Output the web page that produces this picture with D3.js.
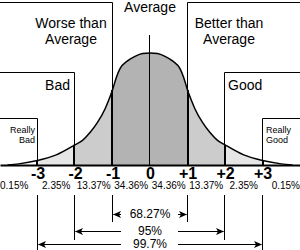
<!DOCTYPE html>
<html>
<head>
<meta charset="utf-8">
<script src="https://cdn.jsdelivr.net/npm/d3@7"></script>
<style>
  html, body { margin: 0; padding: 0; background: #fff; }
  svg { display: block; font-family: "Liberation Sans", Arial, sans-serif; }
</style>
</head>
<body>
<svg id="chart" width="300" height="250"></svg>
<script>
// bell curve (z in sigmas, height in % of peak)
const curveZ = [-3.8, -3.5, -3, -2.5, -2, -1.8, -1.6, -1.4, -1.2, -1.1, -1, -0.9, -0.8, -0.6, -0.4, -0.2, 0,
                0.2, 0.4, 0.6, 0.8, 0.9, 1, 1.1, 1.2, 1.4, 1.6, 1.8, 2, 2.5, 3, 3.5, 3.8];
const curveH = [0, 1, 4, 9, 18, 22, 29, 38, 50, 58, 67, 78, 86, 93, 97, 99.5, 100,
                99.5, 97, 93, 86, 78, 67, 58, 50, 38, 29, 22, 18, 9, 4, 1, 0];

const sigmaTicks = [-3, -2, -1, 0, 1, 2, 3];
const sigmaLabels = ["-3", "-2", "-1", "0", "+1", "+2", "+3"];

const bandEdges = [-4, -3, -2, -1, 0, 1, 2, 3, 4];
const bandPct = ["0.15%", "2.35%", "13.37%", "34.36%", "34.36%", "13.37%", "2.35%", "0.15%"];

const coverSigma = [1, 2, 3];
const coverPct = ["68.27%", "95%", "99.7%"];

const svg = d3.select("#chart");
const width = 300;

const x = d3.scaleLinear().domain([-4, 4]).range([0, width]);
const y = d3.scaleLinear().domain([0, 100]).range([165, 53]);

// half-pixel snapping for 1px lines
const snap = v => Math.floor(v - 0.5) + 0.5;

const pts = curveZ.map((z, i) => ({ z: z, h: curveH[i] }));
const heightAt = z => curveH[curveZ.indexOf(z)];

// shaded bands under the curve
const defs = svg.append("defs");
const bands = [
    { from: -1, to: 1, fill: "#b3b3b3" },
    { from: -2, to: -1, fill: "#cccccc" },
    { from: 1, to: 2, fill: "#cccccc" },
    { from: -3, to: -2, fill: "#e6e6e6" },
    { from: 2, to: 3, fill: "#e6e6e6" }
];

const area = d3.area()
    .x(d => x(d.z))
    .y0(y(0))
    .y1(d => y(d.h))
    .curve(d3.curveMonotoneX);

bands.forEach(function (b, i) {
    defs.append("clipPath")
        .attr("id", "band" + i)
        .append("rect")
        .attr("x", x(b.from))
        .attr("y", 0)
        .attr("width", x(b.to) - x(b.from))
        .attr("height", 250);
    svg.append("path")
        .datum(pts)
        .attr("clip-path", "url(#band" + i + ")")
        .attr("fill", b.fill)
        .attr("d", area);
});

// box outlines for the named regions
const boxes = [
    { side: -1, top: 2.5, z: -1 },
    { side: 1, top: 2.5, z: 1 },
    { side: -1, top: 72.5, z: -2 },
    { side: 1, top: 72.5, z: 2 },
    { side: -1, top: 118.5, z: -3 },
    { side: 1, top: 118.5, z: 3 }
];

svg.append("g")
    .selectAll("path")
    .data(boxes)
    .enter()
    .append("path")
    .attr("fill", "none")
    .attr("stroke", "#000")
    .attr("stroke-width", 1)
    .attr("d", function (d) {
        const xe = d.side < 0 ? 0 : width;
        return "M" + xe + "," + d.top + "H" + snap(x(d.z)) + "V" + y(0);
    });

// centre line
svg.append("line")
    .attr("x1", snap(x(0))).attr("x2", snap(x(0)))
    .attr("y1", 35).attr("y2", y(0))
    .attr("stroke", "#000");

// heavier dividers under the curve
svg.append("g")
    .selectAll("line")
    .data(sigmaTicks.filter(d => d !== 0))
    .enter()
    .append("line")
    .attr("x1", d => snap(x(d)) + (d < 0 ? -0.5 : 0.5))
    .attr("x2", d => snap(x(d)) + (d < 0 ? -0.5 : 0.5))
    .attr("y1", d => y(heightAt(d)))
    .attr("y2", y(0))
    .attr("stroke", "#000")
    .attr("stroke-width", 2);

// the curve itself
svg.append("path")
    .datum(pts)
    .attr("fill", "none")
    .attr("stroke", "#000")
    .attr("stroke-width", 1.5)
    .attr("d", d3.line().x(d => x(d.z)).y(d => y(d.h)).curve(d3.curveMonotoneX));

// axis: baseline + sigma labels
const axis = svg.append("g")
    .attr("transform", "translate(0," + y(0) + ")")
    .call(d3.axisBottom(x)
        .tickValues(sigmaTicks)
        .tickFormat((d, i) => sigmaLabels[i])
        .tickSize(0)
        .tickSizeOuter(0));

axis.select(".domain").attr("stroke", "#000").attr("stroke-width", 2);
axis.selectAll(".tick text")
    .attr("y", 13.5)
    .attr("dy", 0)
    .attr("fill", "#000")
    .style("font-family", "\"Liberation Sans\", Arial, sans-serif")
    .style("font-size", "16px")
    .style("font-weight", "bold");

// band percentages
svg.append("g")
    .selectAll("text")
    .data(bandPct)
    .enter()
    .append("text")
    .attr("x", function (d, i) {
        if (i === 0) return 0;
        if (i === bandPct.length - 1) return width;
        return (x(bandEdges[i]) + x(bandEdges[i + 1])) / 2;
    })
    .attr("y", 189)
    .attr("text-anchor", function (d, i) {
        if (i === 0) return "start";
        if (i === bandPct.length - 1) return "end";
        return "middle";
    })
    .style("font-size", "10px")
    .text(d => d);

// region names
const label = function (txt, lx, ly, anchor, size) {
    svg.append("text")
        .attr("x", lx).attr("y", ly)
        .attr("text-anchor", anchor)
        .style("font-size", size + "px")
        .text(txt);
};

label("Average", x(0), 12, "middle", 14);
label("Worse than", x(-1) - 41.5, 28, "middle", 14);
label("Average", x(-1) - 41.5, 44, "middle", 14);
label("Better than", x(1) + 41.5, 28, "middle", 14);
label("Average", x(1) + 41.5, 44, "middle", 14);
label("Bad", x(-2) - 5, 90, "end", 14);
label("Good", x(2) + 3, 90, "start", 14);
label("Really", x(-3) - 2.5, 133, "end", 9);
label("Bad", x(-3) - 2.5, 143, "end", 9);
label("Really", x(3) + 3.5, 133, "start", 9);
label("Good", x(3) + 3.5, 143, "start", 9);

// coverage brackets
const rowArrowY = [214.5, 231.5, 244.5];
const rowTextY = [218, 235, 248];
const rowLineEnd = [222, 240, 250];

const arrowHead = function (tx, ty, dir) {
    return "M" + tx + "," + ty +
        "L" + (tx + dir * 8) + "," + (ty - 3.5) +
        "L" + (tx + dir * 6) + "," + ty +
        "L" + (tx + dir * 8) + "," + (ty + 3.5) + "Z";
};

const rows = svg.append("g")
    .selectAll("g")
    .data(coverSigma)
    .enter()
    .append("g");

rows.each(function (k, i) {
    const g = d3.select(this);
    const lx = snap(x(-k));
    const rx = snap(x(k));
    [lx, rx].forEach(function (vx) {
        g.append("line")
            .attr("x1", vx).attr("x2", vx)
            .attr("y1", 195).attr("y2", rowLineEnd[i])
            .attr("stroke", "#000");
    });
    g.append("line")
        .attr("x1", lx + 1).attr("x2", 121)
        .attr("y1", rowArrowY[i]).attr("y2", rowArrowY[i])
        .attr("stroke", "#000");
    g.append("line")
        .attr("x1", 178).attr("x2", rx - 1)
        .attr("y1", rowArrowY[i]).attr("y2", rowArrowY[i])
        .attr("stroke", "#000");
    g.append("path").attr("d", arrowHead(lx + 0.5, rowArrowY[i], 1)).attr("fill", "#000");
    g.append("path").attr("d", arrowHead(rx - 0.5, rowArrowY[i], -1)).attr("fill", "#000");
    g.append("text")
        .attr("x", x(0)).attr("y", rowTextY[i])
        .attr("text-anchor", "middle")
        .style("font-size", "12px")
        .text(coverPct[i]);
});
</script>
</body>
</html>
